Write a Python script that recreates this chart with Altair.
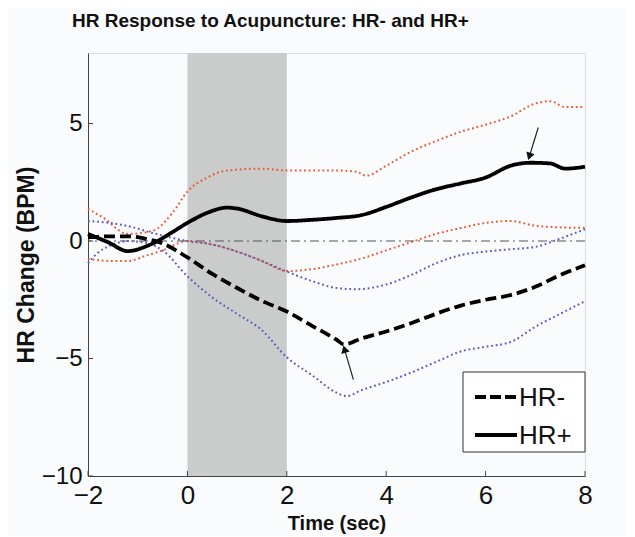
import altair as alt
import pandas as pd

# ---- data ----
hrp_x = [-2, -1.6, -1.2, -0.8, -0.6, -0.3, 0, 0.4, 0.8, 1.0, 1.5, 2.0, 2.5, 3.0, 3.5, 4.0, 4.5, 5.0, 5.5, 6.0, 6.5, 6.9, 7.3, 7.6, 8.0]
hrp_y = [0.3, -0.05, -0.43, -0.2, 0.0, 0.38, 0.77, 1.2, 1.42, 1.38, 1.05, 0.85, 0.9, 0.98, 1.1, 1.45, 1.85, 2.2, 2.45, 2.7, 3.2, 3.33, 3.3, 3.08, 3.16]

hrm_x = [-2, -1.6, -1.2, -0.8, -0.5, 0, 0.5, 1.0, 1.5, 2.0, 2.5, 3.0, 3.15, 3.5, 4.0, 4.5, 5.0, 5.5, 6.0, 6.5, 7.0, 7.5, 8.0]
hrm_y = [0.15, 0.2, 0.2, 0.07, -0.1, -0.7, -1.4, -2.0, -2.55, -3.0, -3.6, -4.2, -4.4, -4.15, -3.85, -3.5, -3.1, -2.75, -2.5, -2.3, -1.95, -1.45, -1.03]

red_up_x = [-2, -1.7, -1.2, -0.7, -0.3, 0, 0.4, 0.8, 1.5, 2.0, 2.5, 3.0, 3.4, 3.6, 4.0, 4.5, 5.0, 5.5, 6.0, 6.5, 7.0, 7.3, 7.6, 8.0]
red_up_y = [1.37, 1.0, 0.3, 0.43, 1.2, 2.1, 2.7, 3.0, 3.08, 3.0, 3.0, 3.0, 2.95, 2.78, 3.2, 3.8, 4.25, 4.65, 4.95, 5.3, 5.85, 5.95, 5.7, 5.7]

red_lo_x = [-2, -1.5, -1.2, -0.8, -0.5, 0, 0.5, 1.0, 1.5, 2.0, 2.5, 3.0, 3.5, 4.0, 4.5, 5.0, 5.5, 6.0, 6.5, 7.0, 7.5, 8.0]
red_lo_y = [-0.77, -0.85, -0.85, -0.6, -0.4, 0.0, -0.15, -0.45, -0.85, -1.28, -1.2, -1.0, -0.75, -0.4, -0.05, 0.3, 0.55, 0.77, 0.85, 0.65, 0.58, 0.56]

blue_up_x = [-2, -1.5, -1.2, -0.7, 0, 0.5, 1.0, 1.5, 2.0, 2.5, 3.0, 3.4, 4.0, 4.5, 5.0, 5.5, 6.0, 6.5, 7.0, 7.5, 8.0]
blue_up_y = [0.85, 0.75, 0.64, 0.34, 0.0, -0.15, -0.45, -0.85, -1.3, -1.7, -2.0, -2.05, -1.85, -1.45, -0.95, -0.6, -0.45, -0.35, -0.25, 0.1, 0.5]

blue_lo_x = [-2, -1.8, -1.5, -1.2, -0.8, -0.5, 0, 0.5, 1.0, 1.5, 2.0, 2.5, 3.0, 3.2, 3.5, 4.0, 4.5, 5.0, 5.5, 6.0, 6.5, 7.0, 7.5, 8.0]
blue_lo_y = [-0.94, -0.5, -0.15, 0.0, -0.1, -0.4, -1.5, -2.4, -3.1, -3.8, -4.95, -5.7, -6.45, -6.6, -6.35, -6.0, -5.6, -5.15, -4.7, -4.5, -4.3, -3.65, -3.1, -2.56]

arrow_tail_x = [7.06, 3.34]
arrow_tail_y = [4.83, -5.9]
arrow_head_x = [6.88, 3.16]
arrow_head_y = [3.6, -4.6]
arrow_angle = [198, 344]

legend_labels = ["HR-", "HR+"]

x_ticks = [-2, 0, 2, 4, 6, 8]
y_ticks = [-10, -5, 0, 5]

W, H = 497, 423

main = pd.concat([
    pd.DataFrame({"t": hrm_x, "v": hrm_y, "series": "HR-"}),
    pd.DataFrame({"t": hrp_x, "v": hrp_y, "series": "HR+"}),
])
ci = pd.concat([
    pd.DataFrame({"t": red_up_x, "v": red_up_y, "band": "red_up", "grp": "red"}),
    pd.DataFrame({"t": red_lo_x, "v": red_lo_y, "band": "red_lo", "grp": "red"}),
    pd.DataFrame({"t": blue_up_x, "v": blue_up_y, "band": "blue_up", "grp": "blue"}),
    pd.DataFrame({"t": blue_lo_x, "v": blue_lo_y, "band": "blue_lo", "grp": "blue"}),
])
arrows = pd.DataFrame({"x": arrow_tail_x, "y": arrow_tail_y, "x2": arrow_head_x,
                       "y2": arrow_head_y, "ang": arrow_angle})

xs = alt.Scale(domain=[-2, 8], nice=False, zero=False)
ys = alt.Scale(domain=[-10, 8], nice=False, zero=False)

xaxis = alt.Axis(values=x_ticks, title="Time (sec)", grid=False, tickSize=0,
                 labelFontSize=26, labelPadding=6, labelColor="#111",
                 titleFontSize=20, titleFontWeight="bold", titlePadding=5,
                 titleColor="#111", domainColor="#444", labelFont="Liberation Sans",
                 titleFont="Liberation Sans", labelFlush=False)
yaxis = alt.Axis(values=y_ticks, title="HR Change (BPM)", grid=False, tickSize=0,
                 labelFontSize=24, labelPadding=6, labelColor="#111",
                 titleFontSize=23, titleFontWeight="bold", titlePadding=3,
                 titleColor="#111", domainColor="#444", labelFont="Liberation Sans",
                 titleFont="Liberation Sans", labelFlush=False)

base_x = alt.X("t:Q", scale=xs, axis=xaxis)
base_y = alt.Y("v:Q", scale=ys, axis=yaxis)

shade = alt.Chart(pd.DataFrame({"a": [0], "b": [2]})).mark_rect(color="#c9cccb").encode(
    x=alt.X("a:Q", scale=xs, axis=xaxis), x2="b:Q",
    y=alt.value(0), y2=alt.value(H))

zero = alt.Chart(pd.DataFrame({"z": [0]})).mark_rule(
    color="#555", strokeWidth=1.2, strokeDash=[9, 4, 2, 4]).encode(
    y=alt.Y("z:Q", scale=ys, axis=yaxis))

dotted = alt.Chart(ci).mark_line(strokeWidth=2, strokeDash=[1.8, 2.8], interpolate="monotone").encode(
    x=base_x, y=base_y, detail="band:N",
    color=alt.Color("grp:N", scale=alt.Scale(domain=["red", "blue"], range=["#ea5a32", "#5a5ac4"]), legend=None))

lines = alt.Chart(main).mark_line(color="black", strokeWidth=3.8, interpolate="monotone").encode(
    x=base_x, y=base_y,
    strokeDash=alt.StrokeDash("series:N",
        scale=alt.Scale(domain=["HR-", "HR+"], range=[[11, 5], [1, 0]]), legend=None))

arrow_line = alt.Chart(arrows).mark_rule(color="#222", strokeWidth=1.2).encode(
    x=alt.X("x:Q", scale=xs, axis=xaxis), y=alt.Y("y:Q", scale=ys, axis=yaxis),
    x2="x2:Q", y2="y2:Q")
arrow_head = alt.Chart(arrows).mark_point(shape="triangle-up", filled=True, color="#111",
                                          size=75, opacity=1).encode(
    x=alt.X("x2:Q", scale=xs, axis=xaxis), y=alt.Y("y2:Q", scale=ys, axis=yaxis),
    angle=alt.Angle("ang:Q", scale=None))

xt = alt.Chart(pd.DataFrame({"k": x_ticks})).mark_rule(color="#444").encode(
    x=alt.X("k:Q", scale=xs, axis=xaxis), y=alt.value(H), y2=alt.value(H - 5))
yt = alt.Chart(pd.DataFrame({"k": y_ticks})).mark_rule(color="#444").encode(
    y=alt.Y("k:Q", scale=ys, axis=yaxis), x=alt.value(0), x2=alt.value(5))

# ---- legend box (drawn inside the plot, lower right) ----
leg_df = pd.DataFrame({"label": legend_labels})
leg_box = alt.Chart(leg_df.head(1)).mark_rect(fill="white", stroke="#333", strokeWidth=1).encode(
    x=alt.value(375), x2=alt.value(497), y=alt.value(319), y2=alt.value(399))
leg_sym1 = alt.Chart(leg_df.head(1)).mark_rule(color="black", strokeWidth=3.8, strokeDash=[11, 4]).encode(
    x=alt.value(387), x2=alt.value(429), y=alt.value(344))
leg_sym2 = alt.Chart(leg_df.head(1)).mark_rule(color="black", strokeWidth=3.8).encode(
    x=alt.value(387), x2=alt.value(429), y=alt.value(382))
leg_txt1 = alt.Chart(leg_df.iloc[[0]]).mark_text(align="left", baseline="middle", fontSize=26,
                                                 font="Liberation Sans", color="#111").encode(
    x=alt.value(431), y=alt.value(345), text="label:N")
leg_txt2 = alt.Chart(leg_df.iloc[[1]]).mark_text(align="left", baseline="middle", fontSize=26,
                                                 font="Liberation Sans", color="#111").encode(
    x=alt.value(431), y=alt.value(383), text="label:N")

chart = alt.layer(shade, zero, dotted, lines, arrow_line, arrow_head, xt, yt,
                  leg_box, leg_sym1, leg_sym2, leg_txt1, leg_txt2).properties(
    width=W, height=H,
    title=alt.TitleParams("HR Response to Acupuncture: HR- and HR+", anchor="start", frame="group",
                          dx=-16, fontSize=19, font="Liberation Sans", fontWeight="bold",
                          color="#111", offset=22),
    autosize=alt.AutoSizeParams(type="none"),
    padding={"left": 80, "top": 45, "right": 40, "bottom": 60},
).configure_view(stroke=None).configure(background="#fafbfc")

chart.save("out.html", embed_options={"renderer": "svg", "actions": False})
